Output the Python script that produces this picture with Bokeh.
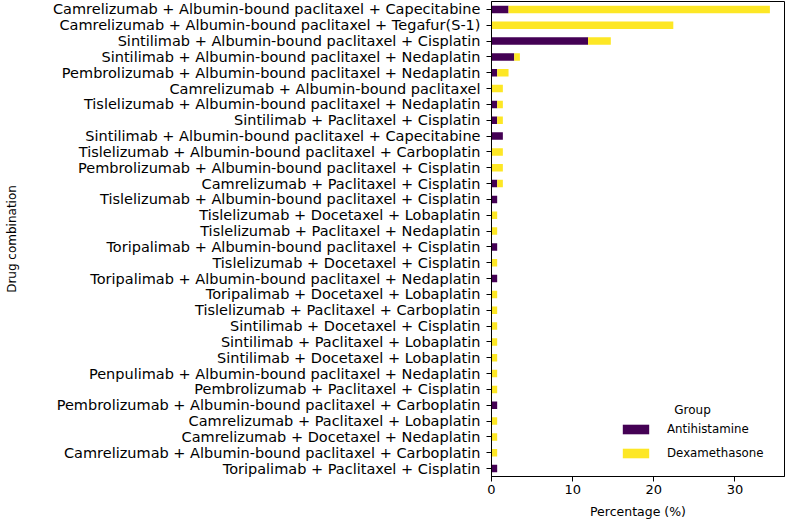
from bokeh.plotting import figure
from bokeh.models import Range1d, FactorRange, FixedTicker, Legend, LegendItem, Label
from bokeh.embed import file_html
from bokeh.resources import INLINE

drugs = [
    "Camrelizumab + Albumin-bound paclitaxel + Capecitabine",
    "Camrelizumab + Albumin-bound paclitaxel + Tegafur(S-1)",
    "Sintilimab + Albumin-bound paclitaxel + Cisplatin",
    "Sintilimab + Albumin-bound paclitaxel + Nedaplatin",
    "Pembrolizumab + Albumin-bound paclitaxel + Nedaplatin",
    "Camrelizumab + Albumin-bound paclitaxel",
    "Tislelizumab + Albumin-bound paclitaxel + Nedaplatin",
    "Sintilimab + Paclitaxel + Cisplatin",
    "Sintilimab + Albumin-bound paclitaxel + Capecitabine",
    "Tislelizumab + Albumin-bound paclitaxel + Carboplatin",
    "Pembrolizumab + Albumin-bound paclitaxel + Cisplatin",
    "Camrelizumab + Paclitaxel + Cisplatin",
    "Tislelizumab + Albumin-bound paclitaxel + Cisplatin",
    "Tislelizumab + Docetaxel + Lobaplatin",
    "Tislelizumab + Paclitaxel + Nedaplatin",
    "Toripalimab + Albumin-bound paclitaxel + Cisplatin",
    "Tislelizumab + Docetaxel + Cisplatin",
    "Toripalimab + Albumin-bound paclitaxel + Nedaplatin",
    "Toripalimab + Docetaxel + Lobaplatin",
    "Tislelizumab + Paclitaxel + Carboplatin",
    "Sintilimab + Docetaxel + Cisplatin",
    "Sintilimab + Paclitaxel + Lobaplatin",
    "Sintilimab + Docetaxel + Lobaplatin",
    "Penpulimab + Albumin-bound paclitaxel + Nedaplatin",
    "Pembrolizumab + Paclitaxel + Cisplatin",
    "Pembrolizumab + Albumin-bound paclitaxel + Carboplatin",
    "Camrelizumab + Paclitaxel + Lobaplatin",
    "Camrelizumab + Docetaxel + Nedaplatin",
    "Camrelizumab + Albumin-bound paclitaxel + Carboplatin",
    "Toripalimab + Paclitaxel + Cisplatin",
]
antihistamine = [2.1, 0, 11.9, 2.8, 0.7, 0, 0.7, 0.7, 1.4, 0, 0, 0.7, 0.7, 0, 0,
                 0.7, 0, 0.7, 0, 0, 0, 0, 0, 0, 0, 0.7, 0, 0, 0, 0.7]
dexamethasone = [32.2, 22.4, 2.8, 0.7, 1.4, 1.4, 0.7, 0.7, 0, 1.4, 1.4, 0.7, 0, 0.7, 0.7,
                 0, 0.7, 0, 0.7, 0.7, 0.7, 0.7, 0.7, 0.7, 0.7, 0, 0.7, 0.7, 0.7, 0]
groups = ["Antihistamine", "Dexamethasone"]
colors = ["#440154", "#FDE725"]
x_ticks = [0, 10, 20, 30]

FONT = "DejaVu Sans"

p = figure(width=786, height=521, output_backend="svg", toolbar_location=None,
           y_range=FactorRange(*reversed(drugs)), x_range=Range1d(0, 36.1),
           min_border_left=491, min_border_right=2, min_border_top=1, min_border_bottom=44)

data = {"drug": drugs, "Antihistamine": antihistamine, "Dexamethasone": dexamethasone}
rs = p.hbar_stack(groups, y="drug", height=0.47, color=colors, line_color=None, source=data)

p.xgrid.visible = False
p.ygrid.visible = False
p.outline_line_color = "black"
p.outline_line_width = 1
p.background_fill_color = "white"
p.border_fill_color = "white"

p.xaxis.ticker = FixedTicker(ticks=x_ticks)
p.xaxis.minor_tick_line_color = None
for ax in (p.xaxis[0], p.yaxis[0]):
    ax.axis_line_color = "black"
    ax.major_tick_line_color = "black"
    ax.major_tick_out = 5
    ax.major_tick_in = 0
    ax.major_label_text_font = FONT
    ax.major_label_text_color = "black"
    ax.axis_label_text_font = FONT
    ax.axis_label_text_font_style = "normal"
    ax.axis_label_text_color = "black"
p.yaxis.major_label_text_font_size = "14.5px"
p.xaxis.major_label_text_font_size = "13px"
p.xaxis.axis_label_text_font_size = "12.5px"
p.yaxis.axis_label_text_font_size = "12px"
p.xaxis.axis_label = "Percentage (%)"
p.yaxis.axis_label = "Drug combination"
p.yaxis.major_label_standoff = 6
p.xaxis.major_label_standoff = 3
p.xaxis.axis_label_standoff = 7
p.yaxis.axis_label_standoff = 31

legend = Legend(items=[LegendItem(label=g, renderers=[r]) for g, r in zip(groups, rs)],
                location=(128, 16), border_line_color=None, background_fill_alpha=0,
                padding=0, margin=0, glyph_width=33, glyph_height=12, label_height=12,
                spacing=10, label_standoff=15, label_text_font=FONT,
                label_text_font_size="11.8px", label_text_color="black")
p.add_layout(legend)
p.add_layout(Label(x=201, y=67, x_units="screen", y_units="screen", text="Group",
                   text_font=FONT, text_font_size="12px", text_align="center",
                   text_baseline="middle", text_color="black"))

open("out.html", "w").write(file_html(p, INLINE))
